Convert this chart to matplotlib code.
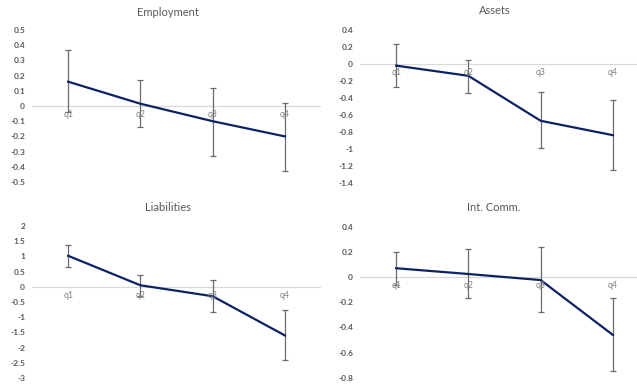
import matplotlib
matplotlib.use('Agg')
import matplotlib.pyplot as plt

plt.rcParams['font.family'] = ['Lato', 'DejaVu Sans']

quarters = ['q1', 'q2', 'q3', 'q4']

employment = [0.16, 0.015, -0.10, -0.20]
employment_hi = [0.37, 0.17, 0.12, 0.02]
employment_lo = [-0.04, -0.14, -0.33, -0.43]

assets = [-0.02, -0.14, -0.67, -0.84]
assets_hi = [0.24, 0.05, -0.33, -0.42]
assets_lo = [-0.27, -0.34, -0.99, -1.25]

liabilities = [1.02, 0.05, -0.31, -1.6]
liabilities_hi = [1.38, 0.39, 0.21, -0.75]
liabilities_lo = [0.66, -0.3, -0.83, -2.42]

int_comm = [0.07, 0.024, -0.024, -0.46]
int_comm_hi = [0.2, 0.22, 0.236, -0.17]
int_comm_lo = [-0.064, -0.17, -0.276, -0.75]

W, H = 637, 389
LINE = '#0c2265'
ERR = '#6b6b6b'
TXT = '#595959'


def panel(fig, box, title, title_xy, vals, hi, lo, yticks, fmt):
    # box is (left, top, right, bottom) in pixels
    l, t, r, b = box
    ax = fig.add_axes([l / W, 1 - b / H, (r - l) / W, (b - t) / H])
    x = list(range(len(quarters)))
    yerr = [[v - d for v, d in zip(vals, lo)], [u - v for v, u in zip(vals, hi)]]
    ax.errorbar(x, vals, yerr=yerr, fmt='none', ecolor=ERR, elinewidth=0.9,
                capsize=2.2, capthick=0.9, zorder=2)
    ax.plot(x, vals, color=LINE, lw=1.6, zorder=3)
    ax.axhline(0, color='#d9d9d9', lw=0.9, zorder=1)
    ax.set_xlim(-0.5, 3.5)
    ax.set_ylim(yticks[-1], yticks[0])
    ax.set_yticks(yticks)
    ax.set_yticklabels([fmt(v) for v in yticks], fontsize=6,
                       color=TXT, fontweight='bold')
    ax.tick_params(axis='y', length=0, pad=5)
    ax.set_xticks([])
    for s in ax.spines.values():
        s.set_visible(False)
    ax.patch.set_alpha(0)
    for i, q in enumerate(quarters):
        ax.annotate(q, (i, 0), xytext=(0, -3), textcoords='offset points',
                    ha='center', va='top', fontsize=6.3, color='#808080',
                    zorder=4)
    fig.text(title_xy[0] / W, 1 - title_xy[1] / H, title, ha='center',
             va='center', fontsize=8, color=TXT)
    return ax


def fmt_num(v):
    v = round(v, 2)
    if v == int(v):
        return str(int(v))
    return ('%g' % v)


fig = plt.figure(figsize=(W / 100, H / 100), dpi=100)

panel(fig, (32, 30, 321, 182), 'Employment', (168, 12),
      employment, employment_hi, employment_lo,
      [0.5, 0.4, 0.3, 0.2, 0.1, 0, -0.1, -0.2, -0.3, -0.4, -0.5], fmt_num)
panel(fig, (360, 30, 649, 182.7), 'Assets', (495, 11),
      assets, assets_hi, assets_lo,
      [0.4, 0.2, 0, -0.2, -0.4, -0.6, -0.8, -1, -1.2, -1.4], fmt_num)
panel(fig, (32, 226, 321, 378), 'Liabilities', (168, 208),
      liabilities, liabilities_hi, liabilities_lo,
      [2, 1.5, 1, 0.5, 0, -0.5, -1, -1.5, -2, -2.5, -3], fmt_num)
panel(fig, (360, 226.7, 649, 377.7), 'Int. Comm.', (494, 208),
      int_comm, int_comm_hi, int_comm_lo,
      [0.4, 0.2, 0, -0.2, -0.4, -0.6, -0.8], fmt_num)

plt.savefig('out.png', dpi=100)
